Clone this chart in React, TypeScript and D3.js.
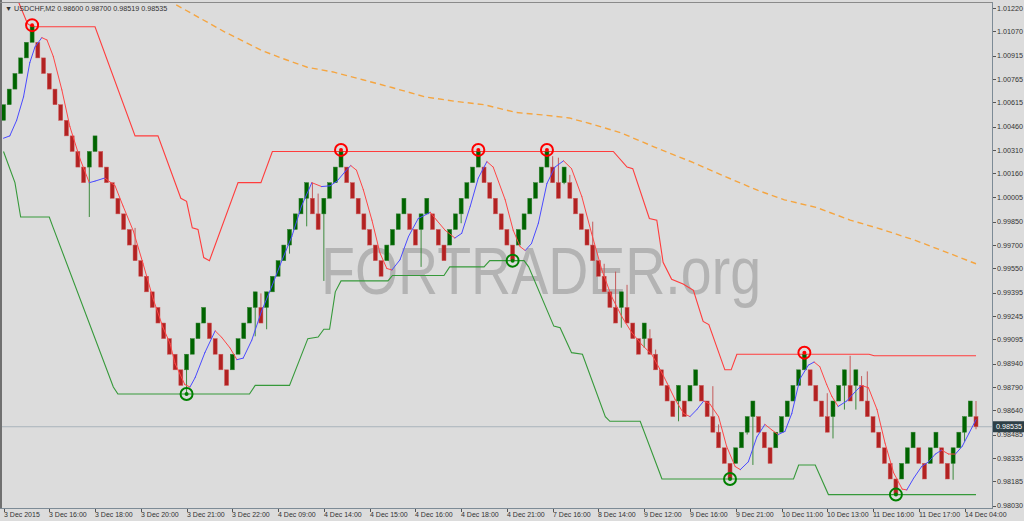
import React from 'react';
import * as d3 from 'd3';

// Renko bricks (USDCHF, 10 pip box)
const BRICK_OPEN = [
  1.005, 1.006, 1.007, 1.008, 1.009, 1.010, 1.010, 1.009, 1.008, 1.007,
  1.006, 1.005, 1.004, 1.003, 1.002, 1.002, 1.003, 1.003, 1.002, 1.001,
  1.000, 0.999, 0.998, 0.997, 0.996, 0.995, 0.994, 0.993, 0.992, 0.991,
  0.990, 0.989, 0.989, 0.990, 0.991, 0.992, 0.992, 0.991, 0.990, 0.989,
  0.989, 0.990, 0.991, 0.992, 0.993, 0.993, 0.993, 0.994, 0.995, 0.996,
  0.997, 0.998, 0.999, 1.000, 1.000, 0.999, 0.999, 1.000, 1.001, 1.002,
  1.002, 1.001, 1.000, 0.999, 0.998, 0.997, 0.996, 0.996, 0.997, 0.998,
  0.999, 0.999, 0.998, 0.998, 0.999, 0.999, 0.998, 0.997, 0.997, 0.998,
  0.999, 1.000, 1.001, 1.002, 1.002, 1.001, 1.000, 0.999, 0.998, 0.997,
  0.997, 0.998, 0.999, 1.000, 1.001, 1.002, 1.002, 1.001, 1.001, 1.001,
  1.000, 0.999, 0.998, 0.997, 0.996, 0.995, 0.994, 0.993, 0.993, 0.993,
  0.992, 0.991, 0.991, 0.991, 0.990, 0.989, 0.988, 0.987, 0.987, 0.987,
  0.987, 0.988, 0.988, 0.987, 0.986, 0.985, 0.984, 0.983, 0.983, 0.984,
  0.985, 0.986, 0.986, 0.985, 0.984, 0.984, 0.985, 0.986, 0.987, 0.988,
  0.989, 0.989, 0.988, 0.987, 0.986, 0.986, 0.987, 0.988, 0.988, 0.988,
  0.988, 0.987, 0.986, 0.985, 0.984, 0.983, 0.982, 0.982, 0.983, 0.984,
  0.984, 0.983, 0.983, 0.984, 0.984, 0.983, 0.983, 0.984, 0.985, 0.986,
  0.986,
];
const BRICK_CLOSE = [
  1.006, 1.007, 1.008, 1.009, 1.010, 1.011, 1.009, 1.008, 1.007, 1.006,
  1.005, 1.004, 1.003, 1.002, 1.001, 1.003, 1.004, 1.002, 1.001, 1.000,
  0.999, 0.998, 0.997, 0.996, 0.995, 0.994, 0.993, 0.992, 0.991, 0.990,
  0.989, 0.988, 0.990, 0.991, 0.992, 0.993, 0.991, 0.990, 0.989, 0.988,
  0.990, 0.991, 0.992, 0.993, 0.994, 0.992, 0.994, 0.995, 0.996, 0.997,
  0.998, 0.999, 1.000, 1.001, 0.999, 0.998, 1.000, 1.001, 1.002, 1.003,
  1.001, 1.000, 0.999, 0.998, 0.997, 0.996, 0.995, 0.997, 0.998, 0.999,
  1.000, 0.998, 0.997, 0.999, 1.000, 0.998, 0.997, 0.996, 0.998, 0.999,
  1.000, 1.001, 1.002, 1.003, 1.001, 1.000, 0.999, 0.998, 0.997, 0.996,
  0.998, 0.999, 1.000, 1.001, 1.002, 1.003, 1.001, 1.000, 1.002, 1.000,
  0.999, 0.998, 0.997, 0.996, 0.995, 0.994, 0.993, 0.992, 0.994, 0.992,
  0.991, 0.990, 0.992, 0.990, 0.989, 0.988, 0.987, 0.986, 0.988, 0.986,
  0.988, 0.989, 0.987, 0.986, 0.985, 0.984, 0.983, 0.982, 0.984, 0.985,
  0.986, 0.987, 0.985, 0.984, 0.983, 0.985, 0.986, 0.987, 0.988, 0.989,
  0.990, 0.988, 0.987, 0.986, 0.985, 0.987, 0.988, 0.989, 0.987, 0.989,
  0.987, 0.986, 0.985, 0.984, 0.983, 0.982, 0.981, 0.983, 0.984, 0.985,
  0.983, 0.982, 0.984, 0.985, 0.983, 0.982, 0.984, 0.985, 0.986, 0.987,
  0.98535,
];

// shadows that stick out of the bricks
const WICK_BAR = [15, 23, 32, 44, 45, 46, 50, 53, 54, 55, 56, 73, 80, 96, 97, 98, 99, 103, 105, 107, 108, 109, 112, 113, 114, 118, 124, 125, 130, 131, 144, 145, 147, 148, 149, 150, 151, 166, 168, 170];
const WICK_LOW = [0.9988, 0.996, 0.98745, 0.99115, 0.992, 0.9916, 0.99645, 0.9982, 0.999, 0.998, 0.9947, 0.9956, 0.9984, 1.001, 1.0, 1.0009, 1.0, 0.996, 0.994, 0.992, 0.9917, 0.992, 0.9904, 0.99, 0.989, 0.9857, 0.985, 0.984, 0.98485, 0.9829, 0.985, 0.9846, 0.98645, 0.987, 0.98645, 0.987, 0.986, 0.98195, 0.9844, 0.98519];
const WICK_HIGH = [1.003, 0.9981, 0.99, 0.994, 0.9939, 0.994, 0.998, 1.001, 1.001, 1.0003, 1.0, 0.999, 1.0, 1.0027, 1.0026, 1.002, 1.0015, 0.9985, 0.9958, 0.9953, 0.994, 0.99445, 0.992, 0.9916, 0.9903, 0.988, 0.98795, 0.9855, 0.986, 0.987, 0.9875, 0.987, 0.989, 0.9899, 0.989, 0.9886, 0.9889, 0.984, 0.986, 0.987];

// fast moving average (blue rising / red falling)
const MA_BAR = [0, 1.1, 2.3, 3.5, 4.6, 5.5, 6.7, 7.6, 8.7, 10.2, 11.6, 13.4, 15, 16, 17.7, 19.5, 20.9, 22.7, 24.4, 26.2, 27.9, 29.1, 30, 31.7, 32.6, 33.5, 35.2, 37, 38.1, 39.6, 40.8, 41.9, 43.4, 45.1, 46.9, 48.6, 50.4, 52.1, 53.9, 55.6, 57.1, 58.3, 59.7, 60.7, 61.7, 62.9, 64.4, 65.8, 67, 67.9, 69.3, 70.8, 72.5, 74.6, 75.7, 77.2, 78.9, 80.1, 81.6, 83, 84.5, 85.6, 87.7, 89.1, 90.3, 91.2, 92.3, 93.5, 95, 96.4, 97.9, 99.3, 101.1, 102.8, 104.6, 106.3, 108.1, 109.8, 111.6, 113.3, 115.1, 116, 117.4, 118.9, 120, 121.2, 122.4, 123.5, 125, 126.4, 127.9, 128.8, 130.2, 131.7, 133.1, 134.3, 135.4, 136.6, 137.8, 139.2, 140.7, 141.7, 142.7, 143.9, 144.8, 145.9, 147.4, 148.9, 150, 151.2, 152.7, 154.1, 155.6, 157.1, 157.9, 159.1, 160.5, 161.7, 162.9, 164, 165.2, 166.4, 167.6, 168.8, 170];
const MA_VALUE = [1.00385, 1.004, 1.005, 1.0065, 1.0087, 1.0097, 1.0103, 1.01015, 1.0091, 1.00695, 1.0046, 1.0025, 1.001, 1.0011, 1.0013, 1.0008, 0.9995, 0.9979, 0.9958, 0.9935, 0.9917, 0.9907, 0.9894, 0.98805, 0.9879, 0.9885, 0.9901, 0.9915, 0.9911, 0.9904, 0.98965, 0.98975, 0.9909, 0.99275, 0.99435, 0.99595, 0.99755, 0.9995, 1.001, 1.00075, 1.0008, 1.0011, 1.0017, 1.0021, 1.0018, 1.00055, 0.9986, 0.9965, 0.9955, 0.9954, 0.99605, 0.99755, 0.9987, 0.9991, 0.9986, 0.99795, 0.99745, 0.99775, 0.9995, 1.0013, 1.00235, 1.002, 0.9999, 0.99795, 0.9969, 0.99665, 0.9971, 0.9984, 1.00095, 1.002, 1.0024, 1.0019, 1.0001, 0.99775, 0.9954, 0.9937, 0.9924, 0.9914, 0.9906, 0.99, 0.9888, 0.98815, 0.9871, 0.9862, 0.986, 0.98645, 0.987, 0.9868, 0.986, 0.9841, 0.9828, 0.9826, 0.9831, 0.9847, 0.9855, 0.98515, 0.98485, 0.98505, 0.9862, 0.9884, 0.9893, 0.9895, 0.9892, 0.98805, 0.9873, 0.98665, 0.987, 0.9876, 0.988, 0.98785, 0.98645, 0.9843, 0.9824, 0.98135, 0.9813, 0.98205, 0.9828, 0.9831, 0.9836, 0.98385, 0.9836, 0.9836, 0.9841, 0.98495, 0.9858];

// upper / lower price channel
const UPPER_BAR = [2.5, 4.2, 5, 16, 23, 27, 31, 32, 33, 34, 35, 36, 41, 45, 47, 106.6, 109, 110, 112.9, 114.2, 115.3, 116.8, 118.8, 120.6, 122.3, 123.3, 126.1, 127.2, 128.2, 151.3, 152.2, 170];
const UPPER_VALUE = [1.0127, 1.0112, 1.011, 1.011, 1.004, 1.004, 1.0, 0.9998, 0.9981, 0.998, 0.9962, 0.996, 1.001, 1.001, 1.003, 1.003, 1.002, 1.0019, 0.9987, 0.9986, 0.9959, 0.9948, 0.9945, 0.9941, 0.9921, 0.9919, 0.989, 0.989, 0.99, 0.99, 0.9899, 0.9899];
const LOWER_BAR = [0, 2, 3, 8, 8.6, 19.2, 20, 43, 44, 50, 53.2, 55, 56, 57, 58, 59, 67.2, 68, 77, 78, 84, 85, 91, 91.8, 96.2, 97.3, 99.3, 101.2, 105.2, 106, 111.3, 114.6, 115.1, 138.1, 139, 141.9, 144.2, 170];
const LOWER_VALUE = [1.003, 1.001, 0.9988, 0.9988, 0.9982, 0.9879, 0.98745, 0.98745, 0.988, 0.988, 0.991, 0.9911, 0.9916, 0.9916, 0.994, 0.9947, 0.9947, 0.99505, 0.99505, 0.9956, 0.9956, 0.996, 0.996, 0.9956, 0.9918, 0.9917, 0.9901, 0.99, 0.986, 0.9857, 0.9857, 0.9825, 0.982, 0.982, 0.9829, 0.9829, 0.981, 0.981];

// slow moving average (orange dashes)
const SLOW_BAR = [30.2, 38.7, 45, 48.5, 53.1, 57.6, 62.8, 67.9, 73.7, 79.3, 84, 89.6, 94.1, 98.9, 103.4, 107.9, 113.7, 120.5, 126.1, 131.9, 136.5, 142.2, 148, 153.6, 159.4, 165.1, 170];
const SLOW_VALUE = [1.0124, 1.01066, 1.0095, 1.009, 1.0084, 1.0081, 1.0076, 1.0071, 1.0065, 1.0062, 1.006, 1.0055, 1.00535, 1.00515, 1.0047, 1.0042, 1.0033, 1.0023, 1.0014, 1.0005, 0.9999, 0.9994, 0.9986, 0.998, 0.9973, 0.9965, 0.9958];

// swing markers
const PEAK_BAR = [5, 59, 83, 95, 140];
const PEAK_VALUE = [1.0111, 1.0031, 1.0031, 1.0031, 0.9901];
const TROUGH_BAR = [32, 89, 127, 156];
const TROUGH_VALUE = [0.98745, 0.996, 0.982, 0.981];

const PRICE_TICKS = [1.0122, 1.0107, 1.00915, 1.00765, 1.00615, 1.0046, 1.0031, 1.0016, 1.00005, 0.9985, 0.997, 0.9955, 0.99395, 0.99245, 0.99095, 0.9894, 0.9879, 0.9864, 0.98485, 0.98335, 0.98185, 0.9803];
const TIME_LABELS = ['3 Dec 2015', '3 Dec 16:00', '3 Dec 18:00', '3 Dec 20:00', '3 Dec 21:00', '3 Dec 22:00', '4 Dec 09:00', '4 Dec 14:00', '4 Dec 15:00', '4 Dec 16:00', '4 Dec 18:00', '4 Dec 21:00', '7 Dec 16:00', '8 Dec 14:00', '9 Dec 12:00', '9 Dec 16:00', '9 Dec 21:00', '10 Dec 11:00', '10 Dec 13:00', '11 Dec 16:00', '11 Dec 17:00', '14 Dec 04:00'];
const TIME_STEP = 8; // bars between time labels
const LAST_PRICE = 0.98535;

const FONT = 'Liberation Sans, Arial, sans-serif';

export default function App() {
  const W = 1024;
  const H = 521;
  const plot = { left: 1, right: 992, top: 3, bottom: 508 };

  const x = d3.scaleLinear().domain([0, 170]).range([3.5, 976]);
  const y = d3.scaleLinear().domain([0.9803, 1.0122]).range([505.5, 8]);

  const pts = (bars: number[], vals: number[]) => bars.map((b, i) => [x(b), y(vals[i])] as [number, number]);
  const line = d3.line();

  const maPts = pts(MA_BAR, MA_VALUE);
  const bodyW = 4;

  return (
    <div style={{ position: 'fixed', left: 0, top: 0 }}>
      <svg width={W} height={H} viewBox={`0 0 ${W} ${H}`} style={{ display: 'block', background: '#dcdcdc' }}>
        <defs>
          <clipPath id="plotClip">
            <rect x={plot.left} y={plot.top} width={plot.right - plot.left} height={plot.bottom - plot.top} />
          </clipPath>
        </defs>
        <rect x={0} y={0} width={W} height={H} fill="#dcdcdc" />

        <text
          x={321}
          y={294}
          fontFamily={FONT}
          fontSize={66}
          fill="#b3b3b3"
          textLength={440}
          lengthAdjust="spacingAndGlyphs"
        >
          FORTRADER.org
        </text>

        <g clipPath="url(#plotClip)">
          {/* last price line */}
          <line x1={plot.left} x2={plot.right} y1={y(LAST_PRICE)} y2={y(LAST_PRICE)} stroke="#a9b3bc" strokeWidth={1} />

          <path d={line(pts(SLOW_BAR, SLOW_VALUE)) ?? ''} fill="none" stroke="#f5a540" strokeWidth={1.4} strokeDasharray="6 4" />
          <path d={line(pts(UPPER_BAR, UPPER_VALUE)) ?? ''} fill="none" stroke="#ff3c3c" strokeWidth={1.1} />
          <path d={line(pts(LOWER_BAR, LOWER_VALUE)) ?? ''} fill="none" stroke="#36993a" strokeWidth={1.1} />

          {WICK_BAR.map((b, i) => (
            <line
              key={`w${i}`}
              x1={x(b)}
              x2={x(b)}
              y1={y(WICK_LOW[i])}
              y2={y(WICK_HIGH[i])}
              stroke={BRICK_CLOSE[b] >= BRICK_OPEN[b] ? '#3d8a3d' : '#c45a5a'}
              strokeWidth={1}
            />
          ))}

          {BRICK_OPEN.map((o, i) => {
            const c = BRICK_CLOSE[i];
            const up = c >= o;
            const top = y(Math.max(o, c));
            const bot = y(Math.min(o, c));
            return (
              <rect
                key={`b${i}`}
                x={x(i) - bodyW / 2}
                y={top}
                width={bodyW}
                height={bot - top}
                fill={up ? '#006400' : '#b22222'}
                stroke={up ? '#2f7f2f' : '#cc5555'}
                strokeWidth={0.5}
              />
            );
          })}

          {maPts.slice(1).map((p, i) => {
            const prev = maPts[i];
            const rising = MA_VALUE[i + 1] > MA_VALUE[i];
            return (
              <line
                key={`m${i}`}
                x1={prev[0]}
                y1={prev[1]}
                x2={p[0]}
                y2={p[1]}
                stroke={rising ? '#4a4aff' : '#ff4646'}
                strokeWidth={1}
                strokeLinecap="round"
              />
            );
          })}

          {PEAK_BAR.map((b, i) => (
            <g key={`pk${i}`}>
              <circle cx={x(b)} cy={y(PEAK_VALUE[i])} r={6} fill="none" stroke="#ff0000" strokeWidth={2} />
              <circle cx={x(b)} cy={y(PEAK_VALUE[i])} r={2} fill="#ff0000" />
            </g>
          ))}
          {TROUGH_BAR.map((b, i) => (
            <g key={`tr${i}`}>
              <circle cx={x(b)} cy={y(TROUGH_VALUE[i])} r={6} fill="none" stroke="#008000" strokeWidth={2} />
              <circle cx={x(b)} cy={y(TROUGH_VALUE[i])} r={2} fill="#008000" />
            </g>
          ))}
        </g>

        {/* frame */}
        <line x1={1} x2={1} y1={0} y2={plot.bottom} stroke="#707070" strokeWidth={2} />
        <line x1={0} x2={plot.right} y1={2.5} y2={2.5} stroke="#8a8a8a" strokeWidth={1} />
        <line x1={plot.right + 0.5} x2={plot.right + 0.5} y1={2} y2={plot.bottom} stroke="#7d8b96" strokeWidth={1} />
        <line x1={0} x2={plot.right + 1} y1={plot.bottom + 0.5} y2={plot.bottom + 0.5} stroke="#7d8b96" strokeWidth={1} />

        {/* header */}
        <text x={5} y={11} fontFamily={FONT} fontSize={7.2} fill="#333">
          ▼ USDCHF,M2  0.98600 0.98700 0.98519 0.98535
        </text>

        {/* price axis */}
        {PRICE_TICKS.map((t) => (
          <g key={`pt${t}`}>
            <line x1={plot.right + 1} x2={plot.right + 4} y1={Math.round(y(t)) + 0.5} y2={Math.round(y(t)) + 0.5} stroke="#555" />
            <text x={997} y={y(t) + 2.6} fontFamily={FONT} fontSize={7.2} fill="#333">
              {t.toFixed(5)}
            </text>
          </g>
        ))}
        <rect x={993} y={y(LAST_PRICE) - 5.5} width={31} height={11} fill="#2d3f47" />
        <text x={996} y={y(LAST_PRICE) + 2.6} fontFamily={FONT} fontSize={7.2} fill="#ffffff">
          {LAST_PRICE.toFixed(5)}
        </text>

        {/* time axis */}
        {TIME_LABELS.map((lab, i) => {
          const xx = Math.round(x(i * TIME_STEP)) + 0.5;
          return (
            <g key={`tl${i}`}>
              <line x1={xx} x2={xx} y1={plot.bottom + 1} y2={plot.bottom + 4} stroke="#555" />
              <text x={xx - 0.5} y={517} fontFamily={FONT} fontSize={7} fill="#333">
                {lab}
              </text>
            </g>
          );
        })}
      </svg>
    </div>
  );
}
